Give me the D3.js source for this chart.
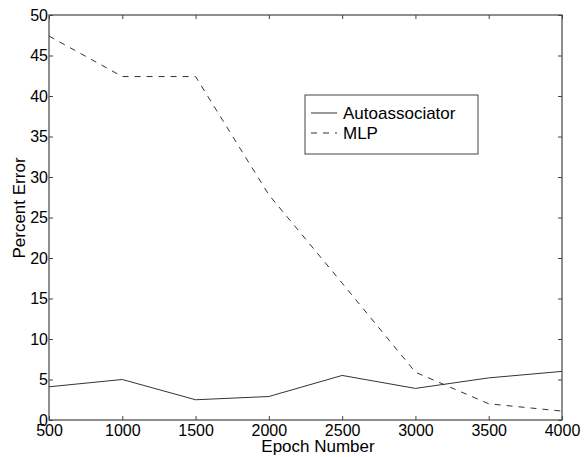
<!DOCTYPE html>
<html>
<head>
<meta charset="utf-8">
<script src="https://cdn.jsdelivr.net/npm/d3@7"></script>
<style>
  body { margin: 0; background: #fff; }
  text { font-family: "Liberation Sans", Arial, Helvetica, sans-serif; fill: #000; }
</style>
</head>
<body>
<div id="chart"></div>
<script>
// Chart data
var epochs = [500, 1000, 1500, 2000, 2500, 3000, 3500, 4000];
var autoassociator = [4.1, 5.0, 2.5, 2.9, 5.5, 3.9, 5.2, 6.0];
var mlp = [47.4, 42.4, 42.4, 27.8, 16.9, 5.9, 2.0, 1.1];
var xTicks = [500, 1000, 1500, 2000, 2500, 3000, 3500, 4000];
var yTicks = [0, 5, 10, 15, 20, 25, 30, 35, 40, 45, 50];

var svgWidth = 586;
var svgHeight = 457;

var chartMargin = { top: 15, right: 24, bottom: 37, left: 49 };
var chartWidth = svgWidth - chartMargin.left - chartMargin.right;
var chartHeight = svgHeight - chartMargin.top - chartMargin.bottom;

var svg = d3.select("#chart")
  .append("svg")
  .attr("width", svgWidth)
  .attr("height", svgHeight);

var chartGroup = svg.append("g")
  .attr("transform", `translate(${chartMargin.left}, ${chartMargin.top})`);

var xScale = d3.scaleLinear().domain([500, 4000]).range([0, chartWidth]);
var yScale = d3.scaleLinear().domain([0, 50]).range([chartHeight, 0]);

var axisColor = "#444";

// plot box
chartGroup.append("rect")
  .attr("x", 0).attr("y", 0)
  .attr("width", chartWidth).attr("height", chartHeight)
  .attr("fill", "none")
  .attr("stroke", axisColor)
  .attr("stroke-width", 1.2);

// ticks point inward on all four sides
var bottomAxis = d3.axisBottom(xScale).tickValues(xTicks).tickSize(-4).tickPadding(5).tickFormat(d3.format("d"));
var topAxis = d3.axisTop(xScale).tickValues(xTicks).tickSize(-4).tickFormat("");
var leftAxis = d3.axisLeft(yScale).tickValues(yTicks).tickSize(-4).tickPadding(1).tickFormat(d3.format("d"));
var rightAxis = d3.axisRight(yScale).tickValues(yTicks).tickSize(-4).tickFormat("");

function styleAxis(g) {
  g.select(".domain").remove();
  g.selectAll(".tick line").attr("stroke", axisColor);
  g.selectAll(".tick text").style("font-size", "16px").attr("fill", "#000");
}

chartGroup.append("g").attr("transform", `translate(0, ${chartHeight})`).call(bottomAxis).call(styleAxis);
chartGroup.append("g").call(topAxis).call(styleAxis);
chartGroup.append("g").call(leftAxis).call(styleAxis);
chartGroup.append("g").attr("transform", `translate(${chartWidth}, 0)`).call(rightAxis).call(styleAxis);

// lines
var line = d3.line()
  .x((d, i) => xScale(epochs[i]))
  .y(d => yScale(d));

chartGroup.append("path")
  .datum(autoassociator)
  .attr("d", line)
  .attr("fill", "none")
  .attr("stroke", "#333")
  .attr("stroke-width", 1);

chartGroup.append("path")
  .datum(mlp)
  .attr("d", line)
  .attr("fill", "none")
  .attr("stroke", "#333")
  .attr("stroke-width", 1)
  .attr("stroke-dasharray", "6,6");

// axis labels
svg.append("text")
  .attr("x", 318)
  .attr("y", 452)
  .attr("text-anchor", "middle")
  .style("font-size", "17px")
  .text("Epoch Number");

svg.append("text")
  .attr("transform", "rotate(-90)")
  .attr("x", -208)
  .attr("y", 25)
  .attr("text-anchor", "middle")
  .style("font-size", "17px")
  .text("Percent Error");

// legend
var legend = svg.append("g");
legend.append("rect")
  .attr("x", 305).attr("y", 95)
  .attr("width", 173).attr("height", 59)
  .attr("fill", "#fff")
  .attr("stroke", axisColor)
  .attr("stroke-width", 1);

var legendItems = [
  { name: "Autoassociator", dash: null, y: 113 },
  { name: "MLP", dash: "6,6", y: 133 }
];

legendItems.forEach(function(item) {
  legend.append("line")
    .attr("x1", 311).attr("x2", 337)
    .attr("y1", item.y).attr("y2", item.y)
    .attr("stroke", "#333")
    .attr("stroke-dasharray", item.dash);
  legend.append("text")
    .attr("x", 343)
    .attr("y", item.y)
    .attr("dy", "0.35em")
    .style("font-size", "17px")
    .text(item.name);
});
</script>
</body>
</html>
